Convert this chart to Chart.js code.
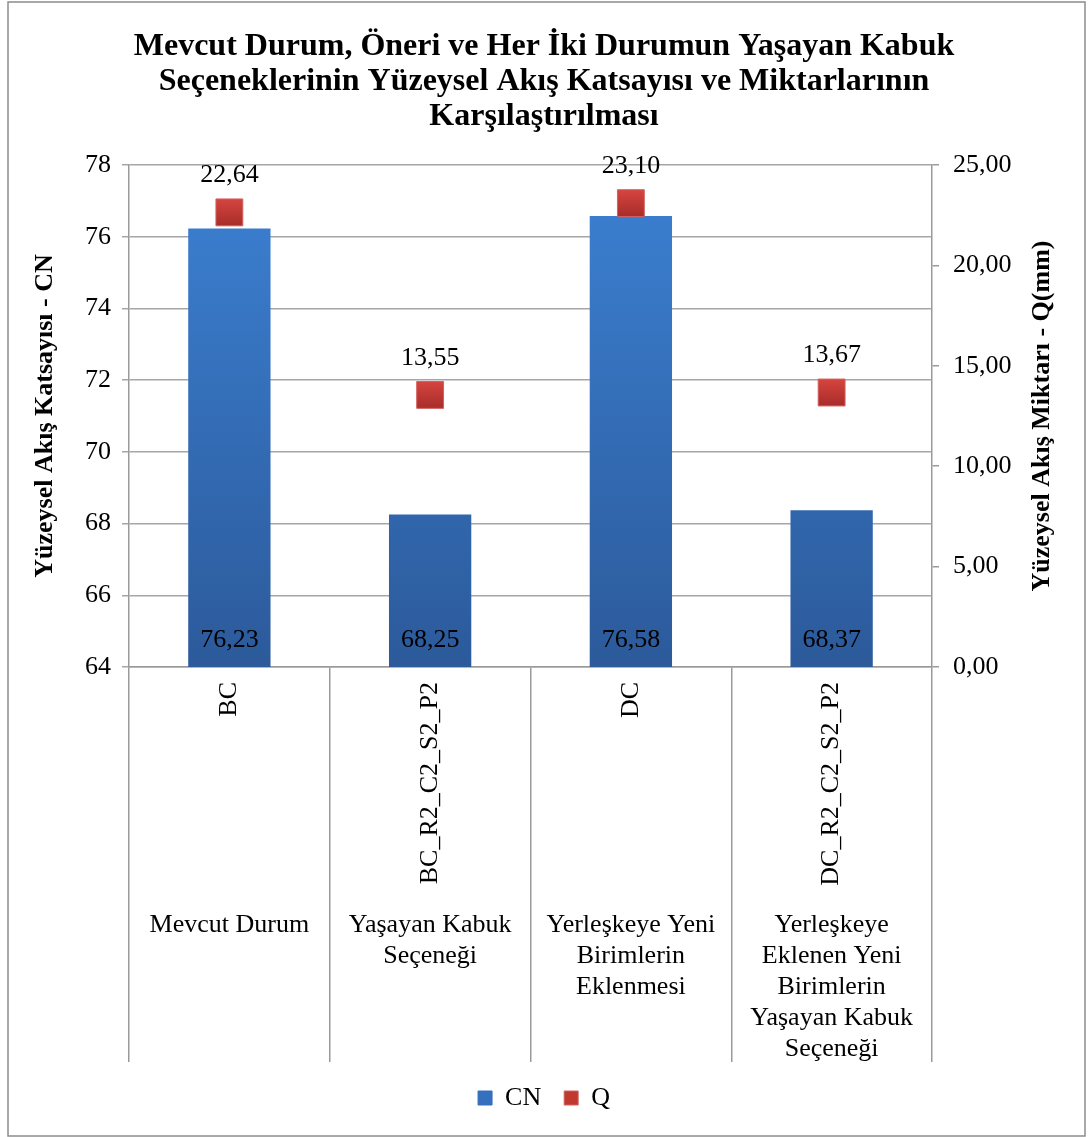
<!DOCTYPE html>
<html>
<head>
<meta charset="utf-8">
<script src="https://cdn.jsdelivr.net/npm/chart.js@4/dist/chart.umd.min.js"></script>
<style>
  html, body { margin: 0; padding: 0; background: #fff; }
  #chart { display: block; }
</style>
</head>
<body>
<canvas id="chart" width="1088" height="1137"></canvas>
<script>
const titleLines = [
  "Mevcut Durum, Öneri ve Her İki Durumun Yaşayan Kabuk",
  "Seçeneklerinin Yüzeysel Akış Katsayısı ve Miktarlarının",
  "Karşılaştırılması"
];
const codes = ["BC", "BC_R2_C2_S2_P2", "DC", "DC_R2_C2_S2_P2"];
const groups = [
  ["Mevcut Durum"],
  ["Yaşayan Kabuk", "Seçeneği"],
  ["Yerleşkeye Yeni", "Birimlerin", "Eklenmesi"],
  ["Yerleşkeye", "Eklenen Yeni", "Birimlerin", "Yaşayan Kabuk", "Seçeneği"]
];
const cnValues = [76.23, 68.25, 76.58, 68.37];
const qValues = [22.64, 13.55, 23.10, 13.67];
const leftTitle = "Yüzeysel Akış Katsayısı - CN";
const rightTitle = "Yüzeysel Akış Miktarı - Q(mm)";

const serif = "'Liberation Serif', 'Times New Roman', serif";
const fmt = v => Number(v).toFixed(2).replace(".", ",");

Chart.defaults.font.family = serif;
Chart.defaults.color = "#000";

function barFill(ctx) {
  const chart = ctx.chart;
  const area = chart.chartArea;
  if (!area) return "#3a78c8";
  const g = chart.ctx.createLinearGradient(0, area.top, 0, area.bottom);
  g.addColorStop(0, "#3c81d3");
  g.addColorStop(1, "#2c5a9b");
  return g;
}

function pointFill(ctx) {
  const chart = ctx.chart;
  if (!chart.chartArea || ctx.raw == null) return "#c0392f";
  const y = chart.scales.y1.getPixelForValue(ctx.raw);
  const g = chart.ctx.createLinearGradient(0, y - 13, 0, y + 13);
  g.addColorStop(0, "#d5443f");
  g.addColorStop(1, "#a82d2a");
  return g;
}

const framePlugin = {
  id: "frame",
  beforeDraw(chart) {
    const c = chart.ctx;
    c.save();
    c.fillStyle = "#fff";
    c.fillRect(0, 0, chart.width, chart.height);
    c.strokeStyle = "#8c8c8c";
    c.lineWidth = 1.5;
    c.strokeRect(8, 2, 1077, 1134);
    c.restore();
  }
};

const labelPlugin = {
  id: "labels",
  afterDatasetsDraw(chart) {
    const c = chart.ctx;
    const area = chart.chartArea;
    c.save();
    c.fillStyle = "#000";
    c.font = "26px " + serif;
    c.textAlign = "center";
    c.textBaseline = "middle";
    chart.getDatasetMeta(1).data.forEach((bar, i) => {
      c.fillText(fmt(cnValues[i]), bar.x, area.bottom - 27);
    });
    chart.getDatasetMeta(0).data.forEach((pt, i) => {
      c.fillText(fmt(qValues[i]), pt.x, pt.y - 37);
    });
    c.restore();
  },
  afterDraw(chart) {
    const c = chart.ctx;
    const area = chart.chartArea;
    const xs = chart.scales.x;
    c.save();
    c.fillStyle = "#000";
    c.font = "26px " + serif;
    codes.forEach((code, i) => {
      const x = xs.getPixelForValue(i);
      c.save();
      c.translate(x, area.bottom + 15);
      c.rotate(-Math.PI / 2);
      c.textAlign = "right";
      c.textBaseline = "middle";
      c.fillText(code, 0, 0);
      c.restore();
      c.textAlign = "center";
      c.textBaseline = "middle";
      groups[i].forEach((line, j) => {
        c.fillText(line, x, 925 + j * 31);
      });
    });
    c.font = "bold 26px " + serif;
    const midY = (area.top + area.bottom) / 2;
    [[45, leftTitle], [1042, rightTitle]].forEach(([x, t]) => {
      c.save();
      c.translate(x, midY);
      c.rotate(-Math.PI / 2);
      c.textAlign = "center";
      c.textBaseline = "middle";
      c.fillText(t, 0, 0);
      c.restore();
    });
    c.restore();
  }
};

new Chart(document.getElementById("chart"), {
  data: {
    labels: codes,
    datasets: [
      {
        type: "line",
        label: "Q",
        data: qValues,
        yAxisID: "y1",
        showLine: false,
        pointStyle: "rect",
        pointRadius: 19,
        pointHoverRadius: 19,
        backgroundColor: pointFill,
        borderColor: "#d2625e",
        borderWidth: 1,
        order: 0
      },
      {
        type: "bar",
        label: "CN",
        data: cnValues,
        yAxisID: "y",
        backgroundColor: barFill,
        borderWidth: 0,
        categoryPercentage: 1,
        barPercentage: 0.41,
        order: 1
      }
    ]
  },
  options: {
    responsive: false,
    animation: false,
    layout: { padding: { left: 8, right: 8, top: 0, bottom: 16 } },
    plugins: {
      title: {
        display: true,
        text: titleLines,
        font: { size: 32, weight: "bold", lineHeight: "35px" },
        color: "#000",
        padding: { top: 29, bottom: 31 }
      },
      legend: {
        position: "bottom",
        reverse: true,
        labels: {
          boxWidth: 14,
          boxHeight: 14,
          padding: 23,
          font: { size: 26 },
          color: "#000",
          generateLabels(chart) {
            const items = Chart.defaults.plugins.legend.labels.generateLabels(chart);
            items.forEach(it => {
              it.fillStyle = it.text === "CN" ? "#3470be" : "#c0392f";
              it.strokeStyle = it.text === "CN" ? "#3470be" : "#d2625e";
              it.lineWidth = 1;
            });
            return items;
          }
        }
      },
      tooltip: { enabled: false }
    },
    scales: {
      x: {
        type: "category",
        offset: true,
        grid: { offset: true, drawOnChartArea: false, tickLength: 395, color: "#9a9a9a", lineWidth: 1.5 },
        border: { color: "#9a9a9a", width: 1.5 },
        ticks: { display: false },
        afterFit: s => { s.height = 395; }
      },
      y: {
        position: "left",
        min: 64,
        max: 78,
        ticks: { stepSize: 2, font: { size: 26 }, color: "#000", padding: 11 },
        grid: { color: "#a6a6a6", lineWidth: 1.5, tickLength: 7 },
        border: { color: "#9a9a9a", width: 1.5 },
        afterFit: s => { s.width = 121; }
      },
      y1: {
        position: "right",
        min: 0,
        max: 25,
        ticks: { stepSize: 5, font: { size: 26 }, color: "#000", padding: 14, callback: v => fmt(v) },
        grid: { drawOnChartArea: false, color: "#9a9a9a", lineWidth: 1.5, tickLength: 7 },
        border: { color: "#9a9a9a", width: 1.5 },
        afterFit: s => { s.width = 148; }
      }
    }
  },
  plugins: [framePlugin, labelPlugin]
});
</script>
</body>
</html>
